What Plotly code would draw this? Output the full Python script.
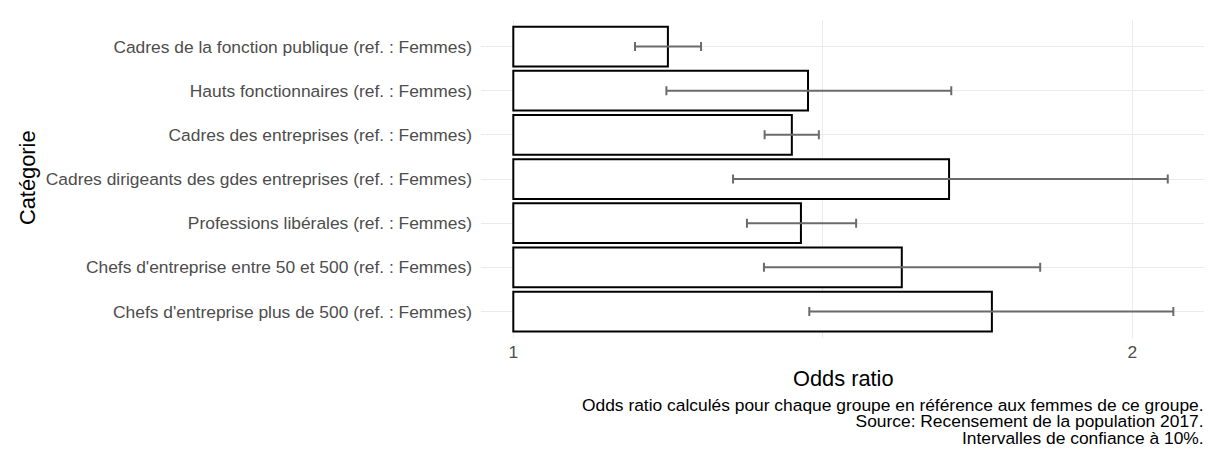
import numpy as np
import plotly.graph_objects as go

categories = [
    "Cadres de la fonction publique (ref. : Femmes)",
    "Hauts fonctionnaires (ref. : Femmes)",
    "Cadres des entreprises (ref. : Femmes)",
    "Cadres dirigeants des gdes entreprises (ref. : Femmes)",
    "Professions libérales (ref. : Femmes)",
    "Chefs d'entreprise entre 50 et 500 (ref. : Femmes)",
    "Chefs d'entreprise plus de 500 (ref. : Femmes)",
]
odds_ratio = [1.189, 1.391, 1.366, 1.629, 1.380, 1.545, 1.709]
ci_low = [1.146, 1.187, 1.325, 1.279, 1.299, 1.324, 1.393]
ci_high = [1.234, 1.633, 1.408, 2.081, 1.468, 1.804, 2.094]
x_ticks = [1, 2]
x_ticklabels = ["1", "2"]
caption_lines = [
    "Odds ratio calculés pour chaque groupe en référence aux femmes de ce groupe.",
    "Source: Recensement de la population 2017.",
    "Intervalles de confiance à 10%.",
]

# page body has an 8px margin: work in reference pixels and shift
OFF = 8
W, H = 1212 - OFF, 453 - OFF
L, R, T, B = 481 - OFF, 6, 20 - OFF, 115
PH = H - T - B
PW = W - L - R

def py(p):
    return (H - B - (p - OFF)) / PH

def px_(p):
    return ((p - OFF) - L) / PW

orr = np.array(odds_ratio)
lo = np.array(ci_low)
hi = np.array(ci_high)

FONT = "Liberation Sans, Arial, sans-serif"
SMALL = 17.4
BIG = 21.8

fig = go.Figure()
fig.add_trace(go.Bar(
    y=categories, x=orr - 1, base=1, orientation="h", width=0.9,
    marker=dict(color="white", line=dict(color="black", width=2)),
    showlegend=False, hoverinfo="skip",
))
fig.add_trace(go.Scatter(
    y=categories, x=orr, mode="markers",
    marker=dict(size=0.1, color="rgba(0,0,0,0)"),
    error_x=dict(type="data", symmetric=False, array=hi - orr, arrayminus=orr - lo,
                 color="#6b6b6b", thickness=2, width=4.5),
    showlegend=False, hoverinfo="skip",
))

fig.update_layout(
    width=W, height=H,
    margin=dict(l=L, r=R, t=T, b=B, autoexpand=False),
    paper_bgcolor="white", plot_bgcolor="white",
    font=dict(family=FONT, color="black"),
    bargap=0.1,
    xaxis=dict(
        type="log", range=[-0.01571, 0.33687],
        tickvals=x_ticks, ticktext=x_ticklabels,
        showgrid=True, gridcolor="#ebebeb", gridwidth=1.4,
        zeroline=False, showline=False, ticks="",
        tickfont=dict(size=SMALL, color="#4d4d4d", family=FONT),
        ticklabelstandoff=2,
        minor=dict(tickvals=[float(np.sqrt(2))], showgrid=True, gridcolor="#ebebeb", gridwidth=0.8, ticks=""),
    ),
    yaxis=dict(
        type="category", categoryorder="array", categoryarray=categories,
        range=[6.6, -0.6],
        showgrid=True, gridcolor="#ebebeb", gridwidth=1.4,
        zeroline=False, showline=False, ticks="",
        tickfont=dict(size=SMALL, color="#4d4d4d", family=FONT),
        ticklabelstandoff=8,
    ),
)

LINE_GAP = 16.3
caption_text = "<br>".join(
    f'<span style="font-size:{SMALL}px">{line}</span>' for line in caption_lines
)

annotations = [
    dict(text="Odds ratio", x=0.5, y=py(378), xref="paper", yref="paper",
         xanchor="center", yanchor="middle", showarrow=False,
         font=dict(size=BIG, color="black", family=FONT)),
    dict(text="Catégorie", x=px_(27), y=py(178), xref="paper", yref="paper",
         xanchor="center", yanchor="middle", showarrow=False, textangle=-90,
         font=dict(size=BIG, color="black", family=FONT)),
    dict(text=caption_text, x=1, y=py(421), xref="paper", yref="paper",
         xanchor="right", yanchor="middle", align="right", showarrow=False,
         font=dict(size=LINE_GAP / 1.3, color="black", family=FONT)),
]
fig.update_layout(annotations=annotations)

fig.add_shape(type="line", xref="paper", yref="paper",
              x0=px_(7.5), x1=px_(7.5), y0=py(8), y1=py(453),
              line=dict(color="#ececec", width=1))

fig.write_html("out.html")
